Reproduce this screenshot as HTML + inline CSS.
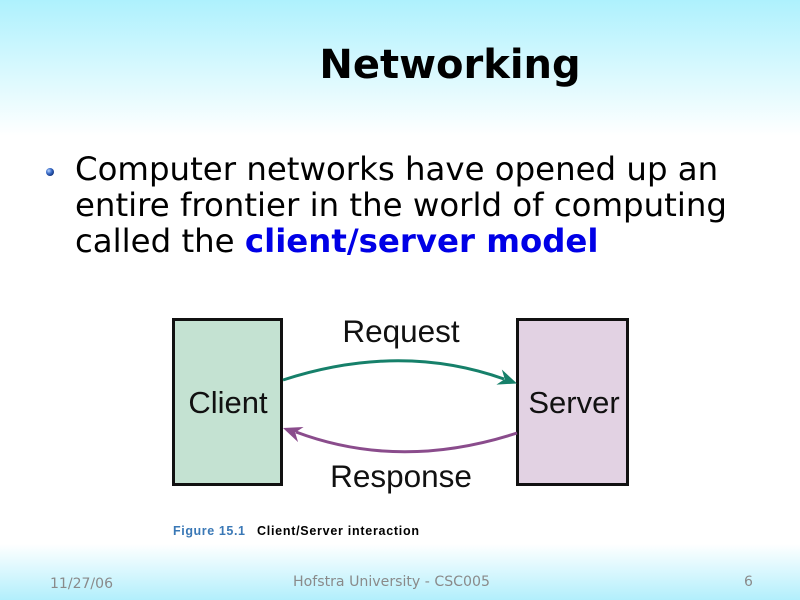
<!DOCTYPE html>
<html><head><meta charset="utf-8"><style>
html,body{margin:0;padding:0;width:800px;height:600px;overflow:hidden;background:#fff}
svg{display:block}
</style></head><body>
<svg width="800" height="600" viewBox="0 0 800 600" xmlns="http://www.w3.org/2000/svg">
<defs>
<linearGradient id="top" x1="0" y1="0" x2="0" y2="1">
<stop offset="0" stop-color="#aef1fd"/><stop offset="1" stop-color="#ffffff"/></linearGradient>
<linearGradient id="bot" x1="0" y1="0" x2="0" y2="1">
<stop offset="0" stop-color="#ffffff"/><stop offset="1" stop-color="#b2effc"/></linearGradient>
<radialGradient id="dot" cx="0.35" cy="0.35" r="0.7">
<stop offset="0" stop-color="#b8d4ff"/><stop offset="0.5" stop-color="#3a6cc8"/><stop offset="1" stop-color="#10307a"/></radialGradient>
</defs>
<rect x="0" y="0" width="800" height="600" fill="#fff"/>
<rect x="0" y="0" width="800" height="136" fill="url(#top)"/>
<rect x="0" y="544" width="800" height="56" fill="url(#bot)"/>

<text x="450" y="78" text-anchor="middle" font-family="'DejaVu Sans',sans-serif" font-weight="bold" font-size="40" fill="#000">Networking</text>

<circle cx="50" cy="172" r="4" fill="url(#dot)"/>
<g font-family="'DejaVu Sans',sans-serif" font-size="32.4" fill="#000">
<text x="75" y="180">Computer networks have opened up an</text>
<text x="75" y="216">entire frontier in the world of computing</text>
<text x="75" y="252">called the <tspan font-weight="bold" fill="#0000e6">client/server model</tspan></text>
</g>

<!-- diagram -->
<rect x="173.5" y="319.5" width="108" height="165" fill="#c4e2d2" stroke="#111" stroke-width="3"/>
<rect x="517.5" y="319.5" width="110" height="165" fill="#e2d2e3" stroke="#111" stroke-width="3"/>
<g font-family="'Liberation Sans',Arial,sans-serif" fill="#111">
<text x="228" y="413" text-anchor="middle" font-size="31">Client</text>
<text x="574" y="413" text-anchor="middle" font-size="31">Server</text>
<text x="401" y="342" text-anchor="middle" font-size="31.5">Request</text>
<text x="401" y="487" text-anchor="middle" font-size="31.5">Response</text>
</g>
<path d="M283,380 Q400,342 504,379" fill="none" stroke="#16806a" stroke-width="3"/>
<polygon points="0,0 -19,-8 -13,0 -19,8" fill="#16806a" transform="translate(517,383.5) rotate(19.8)"/>
<path d="M517,433 Q400,471 296,432" fill="none" stroke="#8a4c8c" stroke-width="3"/>
<polygon points="0,0 -19,-8 -13,0 -19,8" fill="#8a4c8c" transform="translate(283,428) rotate(200.2)"/>

<g font-family="'Liberation Sans',Arial,sans-serif" font-weight="bold" font-size="12.5">
<text x="173" y="535" fill="#3a78b6" textLength="72" lengthAdjust="spacing">Figure 15.1</text>
<text x="257" y="535" fill="#000" textLength="162" lengthAdjust="spacing">Client/Server interaction</text>
</g>

<g font-family="'DejaVu Sans',sans-serif" font-size="14" fill="#8a8a8a">
<text x="50" y="588" textLength="63" lengthAdjust="spacingAndGlyphs">11/27/06</text>
<text x="293" y="586" textLength="197" lengthAdjust="spacingAndGlyphs">Hofstra University - CSC005</text>
<text x="744" y="586">6</text>
</g>
</svg>
</body></html>
